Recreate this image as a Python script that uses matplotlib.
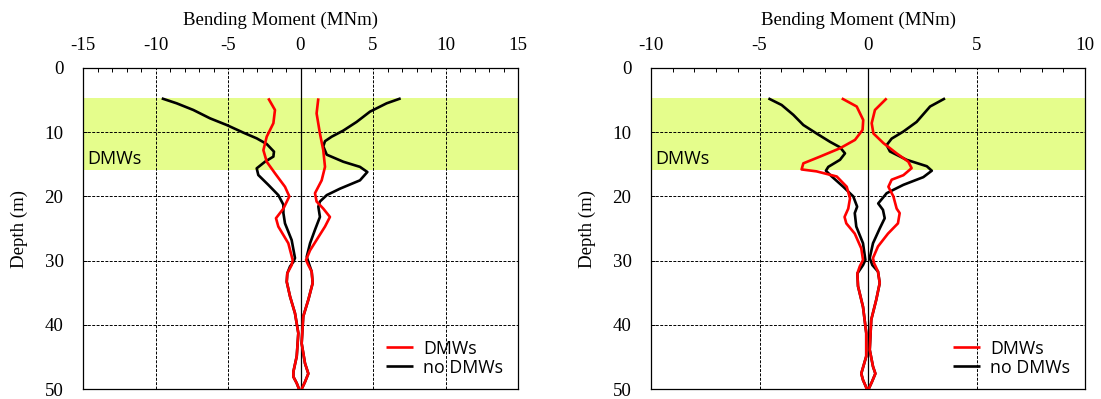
import matplotlib.pyplot as plt
import numpy as np
from matplotlib.ticker import MultipleLocator

plt.rcParams['axes.unicode_minus'] = False

# ---- data (depth in m, moment in MNm) ----
# left panel
L_blk_neg_d = [4.73, 5.5, 6.54, 7.84, 8.88, 10.07, 10.96, 11.84, 13.03, 13.8, 14.6, 15.63, 16.67, 18.2, 19.8, 21.3, 22.6, 24.2, 26.8, 29.6, 30.2, 30.9, 31.98, 33.3, 35.6, 38.2, 41.3, 44.9, 47.3, 48.1, 49.1, 50.0]
L_blk_neg_m = [-9.57, -8.54, -7.39, -6.24, -5.09, -3.94, -3.02, -2.33, -1.83, -1.87, -2.45, -3.02, -2.91, -2.22, -1.53, -1.18, -1.18, -1.07, -0.61, -0.38, -0.49, -0.72, -0.91, -0.95, -0.72, -0.38, -0.15, -0.26, -0.49, -0.49, -0.26, -0.1]
L_blk_pos_d = [4.73, 5.5, 6.8, 8.4, 9.75, 10.7, 11.4, 12.2, 13.5, 14.6, 15.4, 16.2, 17.5, 18.8, 19.8, 20.8, 21.6, 23.2, 25.2, 27.3, 29.4, 30.2, 31.7, 33.5, 36.1, 38.7, 42.9, 46.0, 47.6, 48.9, 50.0]
L_blk_pos_m = [6.91, 5.94, 4.79, 3.87, 2.95, 2.15, 1.69, 1.57, 1.81, 2.95, 4.1, 4.61, 4.1, 2.72, 1.81, 1.34, 1.23, 1.34, 1.0, 0.66, 0.43, 0.54, 0.77, 0.84, 0.54, 0.19, 0.08, 0.31, 0.54, 0.31, 0.08]
L_red_neg_d = [4.73, 6.54, 8.6, 10.7, 12.8, 14.6, 16.4, 18.5, 20.0, 21.9, 23.4, 24.7, 27.3, 29.9, 30.7, 31.98, 33.3, 35.6, 38.2, 41.3, 44.9, 47.3, 48.1, 49.1, 50.0]
L_red_neg_m = [-2.22, -1.76, -1.87, -2.33, -2.56, -2.33, -1.76, -1.07, -0.77, -1.18, -1.69, -1.53, -0.84, -0.54, -0.61, -0.91, -0.95, -0.72, -0.38, -0.15, -0.26, -0.49, -0.49, -0.26, -0.1]
L_red_pos_d = [4.73, 7.07, 10.2, 12.8, 15.4, 17.5, 19.5, 20.8, 21.9, 23.2, 24.7, 28.4, 29.9, 30.7, 31.7, 33.5, 36.1, 38.7, 42.9, 46.0, 47.6, 48.9, 50.0]
L_red_pos_m = [1.23, 1.11, 1.34, 1.57, 1.69, 1.46, 1.0, 1.11, 1.57, 2.03, 1.69, 0.66, 0.38, 0.54, 0.77, 0.84, 0.54, 0.19, 0.08, 0.31, 0.54, 0.31, 0.08]

# right panel
R_blk_neg_d = [4.73, 5.76, 7.3, 8.88, 10.2, 11.5, 12.35, 13.3, 14.3, 15.4, 16.0, 16.9, 18.5, 20.0, 21.6, 22.6, 24.7, 27.3, 29.9, 30.7, 32.0, 34.0, 37.2, 41.3, 44.9, 47.6, 48.6, 50.0]
R_blk_neg_m = [-4.59, -3.98, -3.44, -2.98, -2.37, -1.75, -1.29, -1.06, -1.29, -1.83, -1.94, -1.67, -1.14, -0.68, -0.5, -0.61, -0.54, -0.23, -0.12, -0.23, -0.49, -0.46, -0.23, -0.08, -0.08, -0.31, -0.23, -0.05]
R_blk_pos_d = [4.73, 6.0, 8.4, 9.9, 11.0, 12.0, 13.0, 14.3, 15.3, 16.0, 17.0, 18.2, 19.5, 21.1, 22.1, 23.4, 25.0, 27.3, 29.6, 30.7, 31.7, 33.5, 36.1, 39.2, 43.9, 46.5, 47.6, 48.9, 50.0]
R_blk_pos_m = [3.55, 2.86, 2.24, 1.63, 1.09, 0.86, 1.01, 1.78, 2.71, 2.94, 2.55, 1.63, 0.86, 0.47, 0.69, 0.77, 0.54, 0.23, 0.08, 0.2, 0.46, 0.54, 0.38, 0.15, 0.08, 0.23, 0.34, 0.18, 0.03]
R_red_neg_d = [4.73, 6.0, 8.1, 9.65, 11.2, 12.5, 13.8, 14.85, 15.8, 16.1, 16.9, 18.5, 20.3, 21.9, 23.2, 24.2, 25.8, 28.1, 29.9, 30.9, 32.0, 34.0, 37.2, 41.3, 44.9, 47.6, 48.6, 50.0]
R_red_neg_m = [-1.21, -0.52, -0.22, -0.25, -0.6, -1.29, -2.21, -2.98, -3.06, -2.37, -1.44, -0.98, -0.83, -0.91, -1.08, -1.0, -0.61, -0.31, -0.23, -0.38, -0.49, -0.46, -0.23, -0.08, -0.08, -0.31, -0.23, -0.05]
R_red_pos_d = [4.73, 6.54, 8.6, 10.2, 11.7, 13.3, 14.6, 15.6, 16.7, 17.4, 18.5, 20.0, 21.9, 22.6, 24.2, 25.8, 27.8, 29.6, 30.4, 31.7, 33.5, 36.1, 39.2, 43.9, 46.5, 47.6, 48.9, 50.0]
R_red_pos_m = [0.86, 0.32, 0.17, 0.25, 0.71, 1.32, 1.86, 2.01, 1.63, 1.09, 0.94, 1.17, 1.32, 1.46, 1.38, 0.92, 0.46, 0.23, 0.28, 0.46, 0.54, 0.38, 0.15, 0.08, 0.23, 0.34, 0.18, 0.03]

band = (4.6, 15.9)  # DMWs zone depth
xlims = [(-15, 15), (-10, 10)]

serif = 'Liberation Serif'
sans = 'Open Sans'

fig = plt.figure(figsize=(11.01, 3.99), dpi=100)
ax1 = fig.add_axes([83/1101, 1-389/399, 435/1101, 321/399])
ax2 = fig.add_axes([651/1101, 1-389/399, 434/1101, 321/399])

panels = [
    (ax1, xlims[0], 0.455, (L_blk_neg_d, L_blk_neg_m, L_blk_pos_d, L_blk_pos_m),
     (L_red_neg_d, L_red_neg_m, L_red_pos_d, L_red_pos_m)),
    (ax2, xlims[1], 0.477, (R_blk_neg_d, R_blk_neg_m, R_blk_pos_d, R_blk_pos_m),
     (R_red_neg_d, R_red_neg_m, R_red_pos_d, R_red_pos_m)),
]

lkw = dict(lw=1.9, solid_joinstyle='round', solid_capstyle='butt')

for ax, xl, labx, blk, red in panels:
    ax.axhspan(band[0], band[1], color='#e5fd8c', zorder=0, lw=0)
    # grid
    for v in np.arange(xl[0] + 5, xl[1], 5):
        if v == 0:
            ax.axvline(0, color='black', lw=0.9, zorder=1)
        else:
            ax.axvline(v, color='black', lw=0.7, ls=(0, (3, 1.5)), zorder=1)
    for d in [10, 20, 30, 40]:
        ax.axhline(d, color='black', lw=0.7, ls=(0, (3, 1.5)), zorder=1)

    ax.plot(blk[1], blk[0], color='black', label='no DMWs', zorder=3, **lkw)
    ax.plot(blk[3], blk[2], color='black', zorder=3, **lkw)
    ax.plot(red[1], red[0], color='red', label='DMWs', zorder=4, **lkw)
    ax.plot(red[3], red[2], color='red', zorder=4, **lkw)

    ax.set_xlim(*xl)
    ax.set_ylim(50, 0)
    ax.xaxis.tick_top()
    ax.xaxis.set_label_position('top')
    ax.xaxis.set_major_locator(MultipleLocator(5))
    ax.xaxis.set_minor_locator(MultipleLocator(1))
    ax.yaxis.set_major_locator(MultipleLocator(10))
    ax.tick_params(axis='x', which='major', direction='in', length=0, pad=10)
    ax.tick_params(axis='x', which='minor', direction='in', length=3, width=0.7)
    ax.tick_params(axis='y', direction='in', length=3, width=0.7, pad=14)
    for lab in ax.get_xticklabels() + ax.get_yticklabels():
        lab.set_fontfamily(serif)
        lab.set_fontsize(13.6)
    ax.set_xlabel('Bending Moment (MNm)', fontfamily=serif, fontsize=13.6, labelpad=8)
    ax.xaxis.set_label_coords(labx, 1.135)
    for s in ax.spines.values():
        s.set_linewidth(0.9)

    ax.text(xl[0] + 0.01 * (xl[1] - xl[0]), 14.9, 'DMWs', fontfamily=sans, fontsize=13, va='baseline', zorder=5)

    h, l = ax.get_legend_handles_labels()
    ax.legend([h[1], h[0]], [l[1], l[0]], loc='lower right', frameon=False,
              prop={'family': sans, 'size': 12.8}, handlelength=1.5,
              handletextpad=0.6, labelspacing=0.05, borderaxespad=0.3,
              bbox_to_anchor=(0.995, 0.0))

ax1.set_ylabel('Depth (m)', fontfamily=serif, fontsize=13.6, labelpad=12)
ax2.set_ylabel('Depth (m)', fontfamily=serif, fontsize=13.6, labelpad=12)

fig.savefig('out.png', dpi=100)
